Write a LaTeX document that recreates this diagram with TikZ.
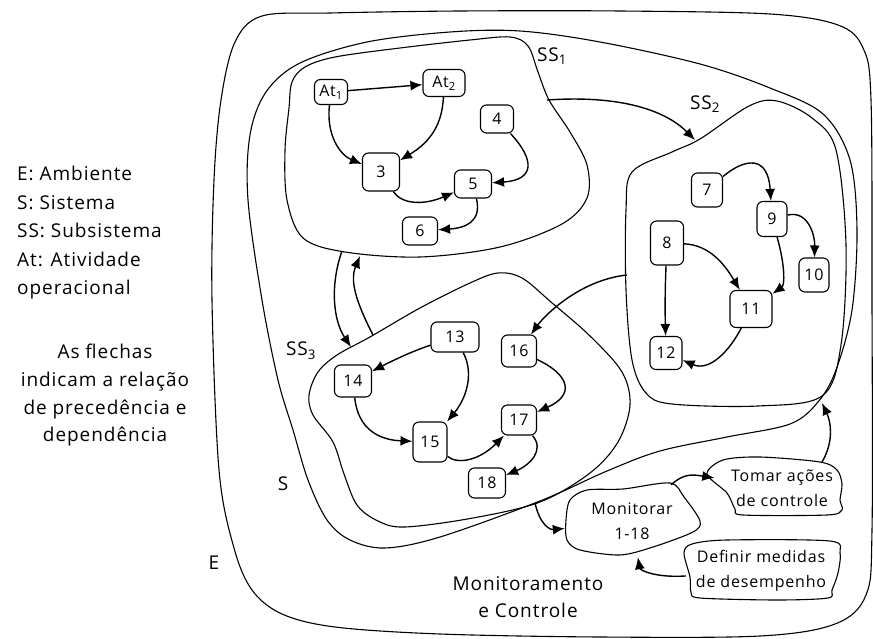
\documentclass[tikz,border=0pt]{standalone}
\usepackage{fontspec}
\setmainfont{Open Sans}[LetterSpace=5]
\usetikzlibrary{arrows.meta}
\begin{document}
\begin{tikzpicture}[x=1pt,y=-1pt,
  region/.style={draw, line width=1.1pt, line join=round},
  act/.style={draw, line width=1.1pt, rounded corners=6pt, inner sep=0pt,
    font=\fontsize{16}{18}\selectfont},
  flow/.style={line width=1.4pt, -{Latex[length=12pt,width=10pt]}},
  lbl/.style={font=\fontsize{19}{22}\selectfont, inner sep=0pt},
  blobtext/.style={font=\fontsize{16}{25}\selectfont, align=center, inner sep=0pt},
]
\useasboundingbox (0,0) rectangle (873,639);

% ---- nested regions: environment, system, subsystems
\draw[region] plot[smooth cycle, tension=0.55] coordinates {
  (212,300) (214,180) (221,100) (235,42) (262,16) (330,13) (460,11) (620,11)
  (770,14) (838,25) (863,48) (871,100) (872,300) (872,530) (866,595) (835,624)
  (760,636) (600,637) (440,634) (335,627) (282,614) (252,590) (234,548) (219,470)};
\draw[region] plot[smooth cycle, tension=0.55] coordinates {
  (248,200) (250,135) (266,92) (300,63) (367,42) (450,32) (520,31) (600,42)
  (700,64) (770,88) (823,114) (850,160) (857,230) (852,310) (836,370) (818,402)
  (790,424) (727,437) (660,451) (607,471) (540,501) (440,537) (385,548) (350,540)
  (327,520) (308,480) (293,430) (278,380) (262,300)};
\draw[region] plot[smooth cycle, tension=0.55] coordinates {
  (287,200) (285,150) (289,108) (292,82) (305,67) (335,57) (400,48) (470,40)
  (510,37) (528,46) (538,72) (549,100) (570,132) (587,165) (587,198) (562,224)
  (500,247) (420,257) (345,252) (303,238)};
\draw[region] plot[smooth cycle, tension=0.55] coordinates {
  (626,290) (626,210) (632,172) (672,152) (700,139) (749,106) (777,101) (812,118)
  (836,150) (846,245) (841,345) (822,396) (758,406) (672,404) (646,393) (632,360)};
\draw[region] plot[smooth cycle, tension=0.55] coordinates {
  (309,395) (318,372) (337,355) (370,337) (420,308) (470,283) (498,273) (522,278)
  (551,302) (590,336) (622,372) (630,405) (618,442) (590,473) (540,502) (473,518)
  (405,527) (378,521) (357,505) (344,474) (333,442) (313,415)};

% ---- region labels
\node[lbl] (lE)   at (214,563) {E};
\node[lbl] (lS)   at (283,484) {S};
\node[lbl] (lSS1) at (552,56)  {SS\textsubscript{1}};
\node[lbl] (lSS2) at (705,104) {SS\textsubscript{2}};
\node[lbl] (lSS3) at (301,351) {SS\textsubscript{3}};

% ---- legend
\node[lbl, font=\fontsize{19}{28.5}\selectfont, align=left, anchor=north west]
  (legend) at (17,166) {E: Ambiente\\S: Sistema\\SS: Subsistema\\At: Atividade\\operacional};
\node[lbl, font=\fontsize{19}{27.7}\selectfont, align=center, anchor=north]
  (note) at (105,344) {As flechas\\indicam a relação\\de precedência e\\dependência};

% ---- activities of SS1
\node[act, minimum width=33pt, minimum height=25pt] (at1) at (331,92)  {At\textsubscript{1}};
\node[act, minimum width=42pt, minimum height=27pt] (at2) at (444,83)  {At\textsubscript{2}};
\node[act, minimum width=33pt, minimum height=28pt] (n4)  at (497,119) {4};
\node[act, minimum width=37pt, minimum height=38pt] (n3)  at (381,172) {3};
\node[act, minimum width=37pt, minimum height=28pt] (n5)  at (473,184) {5};
\node[act, minimum width=35pt, minimum height=28pt] (n6)  at (420,231) {6};

% ---- activities of SS2
\node[act, minimum width=31pt, minimum height=34pt] (n7)  at (707,190) {7};
\node[act, minimum width=30pt, minimum height=35pt] (n9)  at (772,219) {9};
\node[act, minimum width=33pt, minimum height=44pt] (n8)  at (667,243) {8};
\node[act, minimum width=30pt, minimum height=34pt] (n10) at (814,275) {10};
\node[act, minimum width=42pt, minimum height=37pt] (n11) at (751,309) {11};
\node[act, minimum width=32pt, minimum height=33pt] (n12) at (666,353) {12};

% ---- activities of SS3
\node[act, minimum width=48pt, minimum height=30pt] (n13) at (455,337) {13};
\node[act, minimum width=35pt, minimum height=32pt] (n16) at (519,351) {16};
\node[act, minimum width=37pt, minimum height=32pt] (n14) at (353,381) {14};
\node[act, minimum width=35pt, minimum height=30pt] (n17) at (519,420) {17};
\node[act, minimum width=34pt, minimum height=40pt] (n15) at (430,442) {15};
\node[act, minimum width=37pt, minimum height=30pt] (n18) at (487,483) {18};

% ---- monitoring and control
\draw[region] plot[smooth cycle, tension=0.5] coordinates {
  (566,520) (570,500) (587,490) (623,489) (670,483) (684,497) (700,521) (693,532)
  (653,547) (620,555) (580,550) (567,540)};
\draw[region] plot[smooth cycle, tension=0.5] coordinates {
  (707,474) (723,460) (760,457) (820,462) (837,470) (842,484) (840,500) (842,510)
  (827,515) (743,515) (735,509) (727,493)};
\draw[region] plot[smooth cycle, tension=0.5] coordinates {
  (684,553) (692,544) (727,540) (830,541) (840,553) (838,573) (832,590) (828,598)
  (777,600) (700,598) (691,592) (690,577)};
\node[blobtext, minimum width=134pt, minimum height=72pt] (mon) at (632,521) {Monitorar\\1-18};
\node[blobtext, minimum width=135pt, minimum height=58pt] (act) at (782,488) {Tomar ações\\de controle};
\node[blobtext, minimum width=150pt, minimum height=60pt] (def) at (761,571) {Definir medidas\\de desempenho};
\node[blobtext, font=\fontsize{19}{27}\selectfont] (mc) at (528,597) {Monitoramento\\e Controle};

% ---- attachment points on region borders
\coordinate (ss1east)   at (547,100);
\coordinate (ss2top)    at (695,140);
\coordinate (ss2west)   at (627,275);
\coordinate (ss1south)  at (342,251);
\coordinate (ss3top)    at (351,347);
\coordinate (ss3edge)   at (373,335);
\coordinate (ss1bottom) at (360,256);
\coordinate (sbottom)   at (535,503);
\coordinate (scorner)   at (822,403);
\coordinate (actexit)   at (822,462);

% ---- precedence arrows in SS1
\draw[flow] (at1) -- (at2);
\draw[flow] (at1) .. controls (326,135) and (340,155) .. (n3);
\draw[flow] (at2) .. controls (442,130) and (425,145) .. (n3);
\draw[flow] (n4) .. controls (535,160) and (535,180) .. (n5);
\draw[flow] (n3) .. controls (402,205) and (425,205) .. (n5);
\draw[flow] (n5) .. controls (482,222) and (465,228) .. (n6);

% ---- precedence arrows in SS2
\draw[flow] (n7) .. controls (745,158) and (768,155) .. (n9);
\draw[flow] (n9) .. controls (808,210) and (815,235) .. (n10);
\draw[flow] (n9) .. controls (785,265) and (785,285) .. (n11);
\draw[flow] (n8) .. controls (710,245) and (725,265) .. (n11);
\draw[flow] (n8) .. controls (665,290) and (665,310) .. (n12);
\draw[flow] (n11) .. controls (730,350) and (710,372) .. (n12);

% ---- precedence arrows in SS3
\draw[flow] (n13) .. controls (410,352) and (390,362) .. (n14);
\draw[flow] (n13) .. controls (475,375) and (465,400) .. (n15);
\draw[flow] (n14) .. controls (358,430) and (380,440) .. (n15);
\draw[flow] (n15) .. controls (458,465) and (480,460) .. (n17);
\draw[flow] (n16) .. controls (570,375) and (575,395) .. (n17);
\draw[flow] (n17) .. controls (545,450) and (530,465) .. (n18);

% ---- dependencies between subsystems
\draw[flow] (ss1east) .. controls (620,95) and (665,110) .. (ss2top);
\draw[flow] (ss2west) .. controls (580,280) and (545,315) .. (n16);
\draw[flow] (ss1south) .. controls (330,285) and (333,320) .. (ss3top);
\draw[flow] (ss3edge) .. controls (355,300) and (350,280) .. (ss1bottom);

% ---- monitoring loop
\draw[flow] (sbottom) .. controls (540,525) and (550,530) .. (mon);
\draw[flow] (mon) .. controls (685,472) and (695,475) .. (act);
\draw[flow] (actexit) .. controls (835,440) and (830,420) .. (scorner);
\draw[flow] (def) .. controls (655,578) and (640,570) .. (mon);
\end{tikzpicture}
\end{document}
